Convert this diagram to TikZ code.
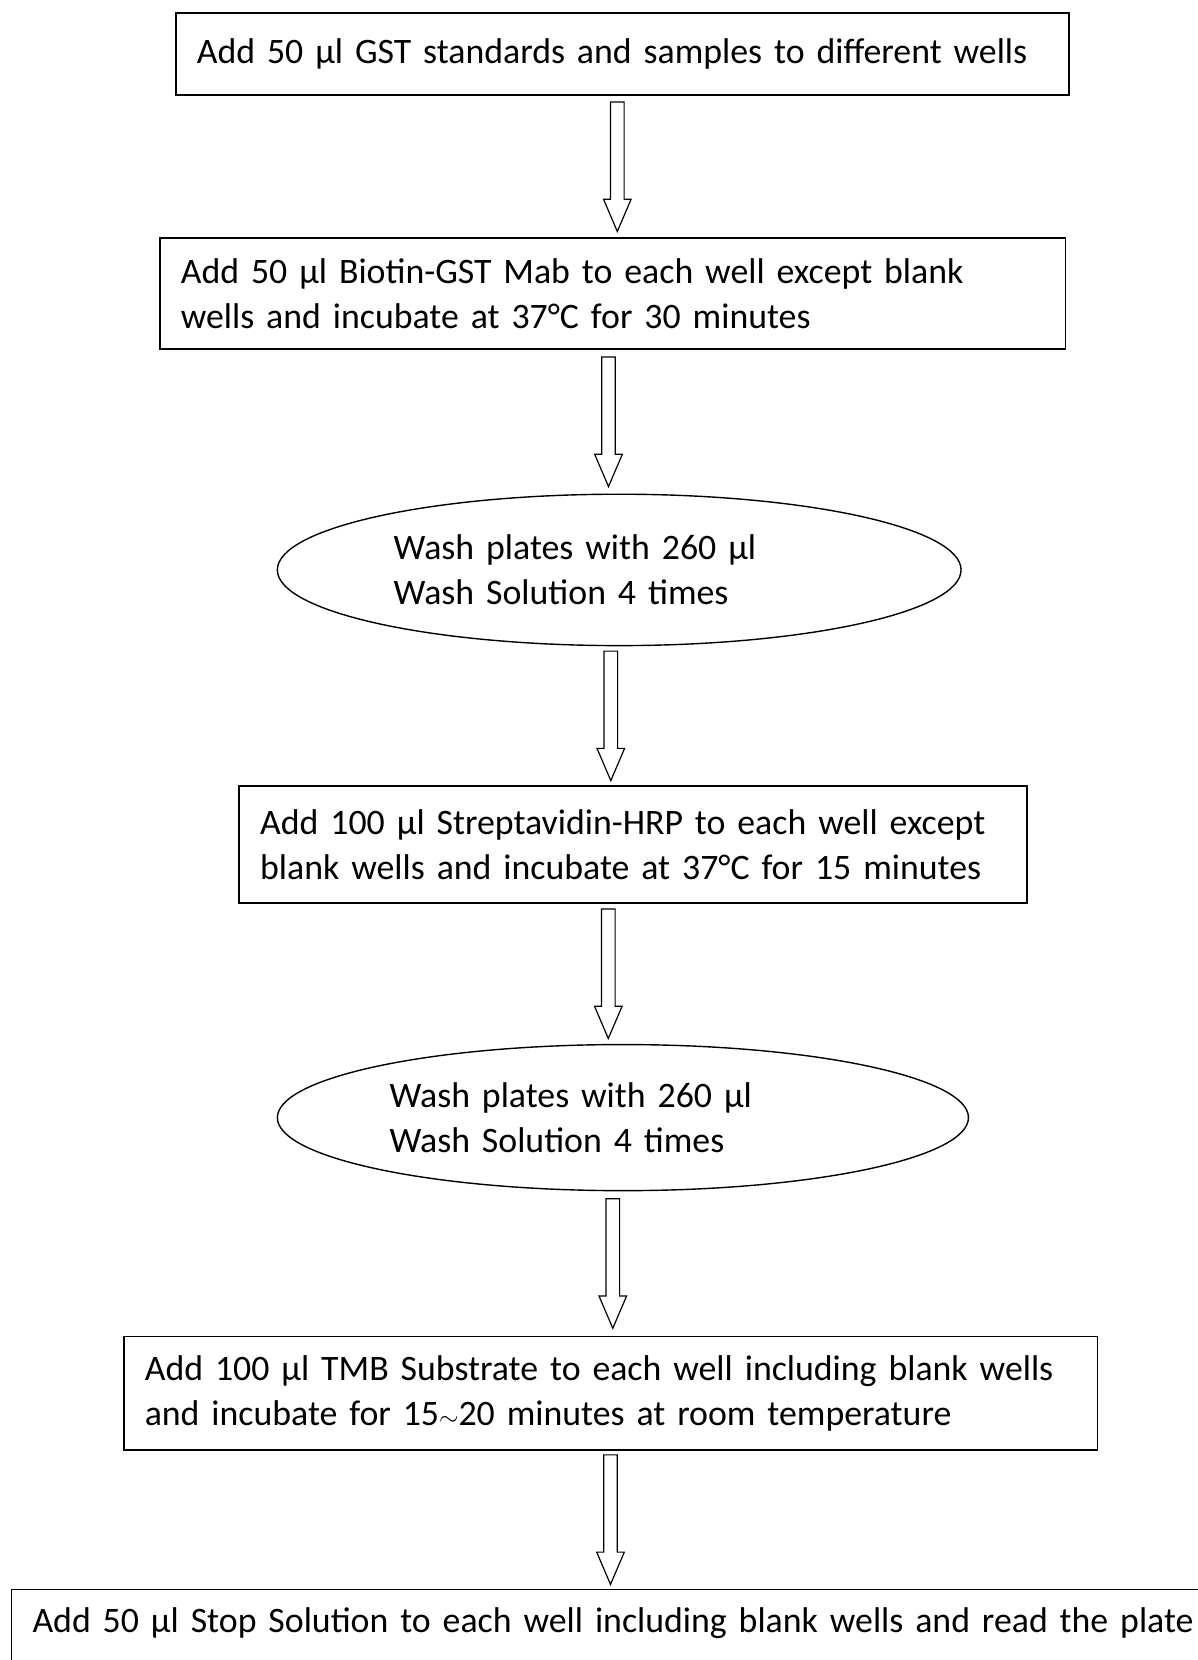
\documentclass[tikz,border=0pt]{standalone}
\usepackage{fontspec}
\setmainfont{Carlito}
\usetikzlibrary{positioning}
\usetikzlibrary{calc}
\usetikzlibrary{shapes.geometric}

\begin{document}
\begin{tikzpicture}
 [ x=1pt
 , y=-1pt
 , font=\fontsize{35.8}{44.8}\selectfont
 , box/.style={draw, line width=1.8pt, rectangle, inner xsep=21pt, inner ysep=0pt, align=left}
 , wash/.style={draw, line width=1.4pt, ellipse, inner sep=0pt, align=left}
 , down arrow/.pic={\draw [line width=1.2pt, line join=miter]
     (-6.8,-64.75) -- (6.8,-64.75) -- (6.8,32.5) -- (13.8,32.5) -- (0,64.75)
     -- (-13.8,32.5) -- (-6.8,32.5) -- cycle;}
 ]
  \useasboundingbox (0,0) rectangle (1198,1660);
  \clip (0,0) rectangle (1198,1660);

  % the steps, top to bottom
  \node [box, minimum width=893pt, minimum height=82.5pt, text width=851pt] (b1) at (622.3,54)
    {Add 50 µl GST standards and samples to different wells};
  \node [box, minimum width=905.6pt, minimum height=111.1pt, text width=863.6pt] (b2) at (612.6,293.7)
    {Add 50 µl Biotin-GST Mab to each well except blank\\wells and incubate at 37°C for 30 minutes};
  \node [wash, minimum width=683.7pt, minimum height=151.4pt, text width=451pt] (e1) at (619.2,569.9)
    {Wash plates with 260 µl\\Wash Solution 4 times};
  \node [box, minimum width=787.4pt, minimum height=116.4pt, text width=745.4pt] (b3) at (632.9,844.5)
    {Add 100 µl Streptavidin-HRP to each well except\\blank wells and incubate at 37°C for 15 minutes};
  \node [wash, minimum width=691.1pt, minimum height=146.1pt, text width=466.8pt] (e2) at (622.9,1117.6)
    {Wash plates with 260 µl\\Wash Solution 4 times};
  \node [box, minimum width=973.6pt, minimum height=113.3pt, text width=931.6pt] (b4) at (610.6,1393.2)
    {Add 100 µl TMB Substrate to each well including blank wells\\and incubate for 15$\sim$20 minutes at room temperature};
  % last step runs off the page
  \node [box, anchor=north west, text width=1500pt, text height=43.5pt, text depth=150pt] (b5) at (10.6,1588.5)
    {Add 50 µl Stop Solution to each well including blank wells and read the plate};

  % hollow arrows between the steps
  \path (617.3,0 |- b1.south) -- (617.3,0 |- b2.north) pic [pos=.5] {down arrow};
  \path (608.5,0 |- b2.south) -- (608.5,0 |- e1.north) pic [pos=.5] {down arrow};
  \path (610.8,0 |- e1.south) -- (610.8,0 |- b3.north) pic [pos=.5] {down arrow};
  \path (608.3,0 |- b3.south) -- (608.3,0 |- e2.north) pic [pos=.5] {down arrow};
  \path (612.8,0 |- e2.south) -- (612.8,0 |- b4.north) pic [pos=.5] {down arrow};
  \path (610.5,0 |- b4.south) -- (610.5,0 |- b5.north) pic [pos=.5] {down arrow};
\end{tikzpicture}
\end{document}
